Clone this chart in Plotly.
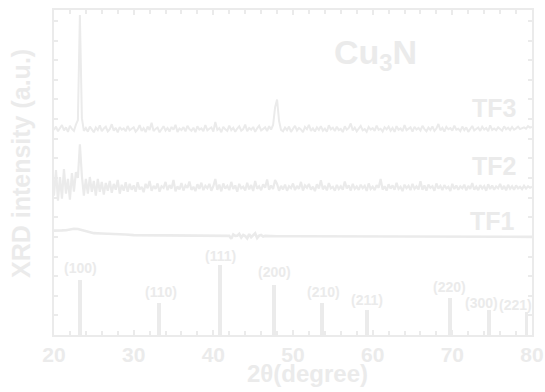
import numpy as np
import plotly.graph_objects as go

# ---------------- data ----------------
two_theta = np.arange(20.0, 80.001, 0.25)  # sampling grid, 241 points

tf3 = [
    10.45, 10.62, 10.38, 10.55, 10.70, 10.42, 10.58, 10.35, 10.66, 10.50, 10.40, 10.72,
    10.95, 16.30, 11.05, 10.40,
    10.55, 10.36, 10.62, 10.48, 10.33, 10.57, 10.44, 10.68, 10.39, 10.52, 10.61, 10.37,
    10.49, 10.74, 10.41, 10.55, 10.32, 10.60, 10.46, 10.53, 10.38, 10.65, 10.43, 10.51,
    10.58, 10.36, 10.47, 10.69, 10.40, 10.54, 10.34, 10.62, 10.45, 10.81, 10.39, 10.50,
    10.57, 10.33, 10.48, 10.64, 10.42, 10.55, 10.37, 10.60, 10.46, 10.71, 10.35, 10.52,
    10.44, 10.59, 10.38, 10.66, 10.49, 10.41, 10.56, 10.34, 10.63, 10.47, 10.53, 10.39,
    10.70, 10.43, 10.51, 10.58,
    10.37, 10.85, 10.45, 10.54, 10.33, 10.61, 10.48, 10.40, 10.67, 10.44, 10.56, 10.36,
    10.52, 10.63, 10.41, 10.49, 10.72, 10.38, 10.55, 10.46, 10.60, 10.35, 10.53, 10.66,
    10.42, 10.50, 10.58, 10.39, 10.64, 10.47, 10.70,
    11.60, 12.00, 10.90, 10.45,
    10.38, 10.57, 10.44, 10.62, 10.35, 10.51, 10.66, 10.42, 10.55, 10.47,
    10.33, 10.60, 10.49, 10.71, 10.40, 10.53, 10.37, 10.58, 10.45, 10.64,
    10.41, 10.52, 10.36, 10.69, 10.48, 10.56, 10.39, 10.61, 10.44, 10.50,
    10.34, 10.63, 10.46, 10.55, 10.78, 10.42, 10.57, 10.38, 10.52, 10.65,
    10.43, 10.49, 10.36, 10.60, 10.47, 10.54, 10.40, 10.67, 10.45, 10.51,
    10.37, 10.59, 10.48, 10.62, 10.41, 10.55, 10.35, 10.64, 10.46, 10.53,
    10.39, 10.70, 10.44, 10.50, 10.58, 10.36, 10.61, 10.47, 10.55, 10.42,
    10.66, 10.49, 10.38, 10.57, 10.45, 10.63, 10.40, 10.52, 10.75, 10.43,
    10.56, 10.37, 10.60, 10.48, 10.54, 10.41, 10.67, 10.46, 10.51, 10.39,
    10.62, 10.44, 10.58, 10.35, 10.53, 10.65, 10.42, 10.49, 10.57, 10.40,
    10.61, 10.47, 10.55, 10.38, 10.68, 10.45, 10.52, 10.43, 10.59, 10.50,
    10.41, 10.63, 10.48, 10.56, 10.44, 10.60, 10.46, 10.53, 10.62, 10.49,
    10.55, 10.58, 10.51, 10.64, 10.57, 10.60,
]

tf2 = [
    7.10, 8.40, 6.85, 8.05, 6.95, 8.45, 7.20, 7.95, 6.90, 8.25, 7.30, 8.30,
    8.00, 9.72, 8.10, 7.10,
    7.95, 7.20, 8.05, 7.30, 7.85, 7.10, 7.95, 7.30, 7.80, 7.15, 7.75, 7.35,
    7.85, 7.25, 7.70, 7.40, 7.90, 7.20, 7.65, 7.35, 7.78, 7.30, 7.70, 7.40,
    7.62, 7.30, 7.78, 7.42, 7.55, 7.28, 7.70, 7.48, 7.85, 7.35, 7.60, 7.44,
    7.72, 7.30, 7.58, 7.50, 7.80, 7.38, 7.64, 7.46, 7.90, 7.32, 7.57, 7.42,
    7.74, 7.36, 7.62, 7.50, 7.82, 7.40, 7.55, 7.33, 7.68, 7.45, 7.76, 7.38,
    7.60, 7.48, 7.70, 7.35,
    7.58, 7.95, 7.40, 7.66, 7.32, 7.72, 7.46, 7.60, 7.38, 7.80, 7.44, 7.62,
    7.30, 7.70, 7.48, 7.56, 7.36, 7.75, 7.42, 7.64, 7.34, 7.85, 7.45, 7.58,
    7.38, 7.68, 7.50, 7.92, 7.40, 7.62, 7.44,
    7.90, 7.70, 7.35, 7.60,
    7.42, 7.66, 7.35, 7.58, 7.48, 7.72, 7.38, 7.60, 7.45, 7.80,
    7.36, 7.62, 7.50, 7.70, 7.40, 7.56, 7.33, 7.68, 7.46, 7.88,
    7.42, 7.60, 7.37, 7.74, 7.48, 7.55, 7.35, 7.65, 7.44, 7.58,
    7.40, 7.82, 7.47, 7.62, 7.36, 7.70, 7.45, 7.57, 7.39, 7.66,
    7.48, 7.60, 7.34, 7.72, 7.44, 7.56, 7.38, 7.64, 7.50, 7.95,
    7.41, 7.58, 7.36, 7.68, 7.46, 7.62, 7.40, 7.75, 7.44, 7.55,
    7.33, 7.66, 7.48, 7.60, 7.38, 7.70, 7.45, 7.57, 7.42, 7.84,
    7.40, 7.62, 7.36, 7.66, 7.50, 7.58, 7.35, 7.72, 7.46, 7.60,
    7.39, 7.64, 7.47, 7.55, 7.34, 7.70, 7.44, 7.62, 7.40, 7.58,
    7.48, 7.66, 7.37, 7.60, 7.45, 7.74, 7.41, 7.56, 7.38, 7.64,
    7.46, 7.59, 7.35, 7.68, 7.44, 7.62, 7.40, 7.57, 7.48, 7.70,
    7.42, 7.60, 7.37, 7.65, 7.45, 7.58, 7.40, 7.62, 7.47, 7.55,
    7.43, 7.60, 7.46, 7.58, 7.50, 7.55,
]

tf1_x = [20, 20.5, 21, 21.5, 22, 22.5, 23, 23.5, 24, 24.5, 25,
         26, 27, 28, 29, 30, 32, 34, 36, 38, 40, 41, 42,
         42.25, 42.5, 42.75, 43, 43.25, 43.5, 43.75, 44, 44.25, 44.5,
         44.75, 45, 45.25, 45.5, 45.75, 46, 46.25, 46.5,
         47, 48, 50, 55, 60, 65, 70, 75, 80]
tf1 = [5.32, 5.31, 5.33, 5.34, 5.38, 5.41, 5.40, 5.35, 5.28, 5.22, 5.19,
       5.17, 5.16, 5.14, 5.12, 5.09, 5.08, 5.08, 5.07, 5.07, 5.06, 5.06, 5.05,
       4.90, 5.12, 5.05, 5.06, 5.15, 4.96, 5.10, 5.04, 4.92, 5.14,
       4.98, 5.08, 5.18, 4.94, 5.06, 5.10, 5.02, 5.05,
       5.04, 5.03, 5.03, 5.02, 5.01, 5.01, 5.00, 5.00, 5.00]

ref_hkl = ["(100)", "(110)", "(111)", "(200)", "(210)", "(211)", "(220)", "(300)", "(221)"]
ref_pos = [23.32, 33.17, 40.87, 47.63, 53.62, 59.28, 69.67, 74.57, 79.31]
ref_int = [2.80, 1.63, 3.56, 2.54, 1.64, 1.27, 1.88, 1.27, 1.17]
label_x = [23.33, 33.40, 40.96, 47.70, 53.80, 59.35, 69.65, 73.70, 77.87]
label_y = [3.42, 2.17, 4.01, 3.20, 2.17, 1.78, 2.44, 1.64, 1.53]

x_ticks = [20, 30, 40, 50, 60, 70, 80]

# ---------------- style ----------------
C = "#ebebeb"
FONT = "Liberation Sans, Arial, sans-serif"

fig = go.Figure()
fig.add_trace(go.Bar(x=ref_pos, y=ref_int, width=0.5, marker=dict(color=C, line=dict(width=0)),
                     showlegend=False, hoverinfo="skip"))
for yy, xx, w in [(tf1, tf1_x, 2.6), (tf2, two_theta, 2.2), (tf3, two_theta, 2.0)]:
    fig.add_trace(go.Scatter(x=xx, y=yy, mode="lines", line=dict(color=C, width=w),
                             showlegend=False, hoverinfo="skip"))

ann = []
for t, lx, ly in zip(ref_hkl, label_x, label_y):
    ann.append(dict(x=lx, y=ly, text=t, showarrow=False, xanchor="center", yanchor="middle",
                    font=dict(family=FONT, size=14, color=C, weight="bold")))
for t, lx, ly in [("TF3", 75.23, 11.55), ("TF2", 75.23, 8.60), ("TF1", 75.06, 5.83)]:
    ann.append(dict(x=lx, y=ly, text=t, showarrow=False, xanchor="center", yanchor="middle",
                    font=dict(family=FONT, size=25, color=C, weight="bold")))
ann.append(dict(x=60.35, y=14.3, text="Cu<sub>3</sub>N", showarrow=False, xanchor="center",
                yanchor="middle", font=dict(family=FONT, size=34, color=C, weight="bold")))
ann.append(dict(x=0.53, y=0, xref="paper", yref="paper", yshift=-38, text="2θ(degree)",
                showarrow=False, xanchor="center", yanchor="middle",
                font=dict(family=FONT, size=24, color=C, weight="bold")))
ann.append(dict(x=-0.0677, y=0.528, xref="paper", yref="paper", text="XRD intensity (a.u.)",
                textangle=-90, showarrow=False, xanchor="center", yanchor="middle",
                font=dict(family=FONT, size=25, color=C, weight="bold")))

fig.update_layout(
    width=545, height=392,
    margin=dict(l=54, r=13, t=10, b=57),
    paper_bgcolor="white", plot_bgcolor="white",
    annotations=ann,
    bargap=0,
    xaxis=dict(range=[20, 80], tickvals=x_ticks, ticktext=[str(v) for v in x_ticks],
               ticks="inside", ticklen=5, tickwidth=1.5, tickcolor=C,
               minor=dict(dtick=2, ticks="inside", ticklen=4, tickwidth=1.5, tickcolor=C),
               showline=True, linecolor=C, linewidth=2, mirror="ticks",
               showgrid=False, zeroline=False, automargin=False,
               tickfont=dict(family=FONT, size=21, color=C, weight="bold")),
    yaxis=dict(range=[0, 16.56], dtick=1, tick0=0, showticklabels=False,
               ticks="inside", ticklen=4, tickwidth=1.5, tickcolor=C,
               showline=True, linecolor=C, linewidth=2, mirror="ticks",
               showgrid=False, zeroline=False, automargin=False),
)

fig.write_html("out.html", config={"displayModeBar": False},
               post_script="document.body.style.margin='0';document.body.style.padding='0';")
